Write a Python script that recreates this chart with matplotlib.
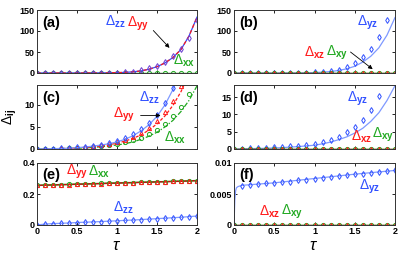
import matplotlib
matplotlib.use("Agg")
import matplotlib.pyplot as plt

plt.rcParams["font.family"] = ["Liberation Sans", "DejaVu Sans"]
plt.rcParams["mathtext.fontset"] = "custom"
plt.rcParams["mathtext.rm"] = "Liberation Sans"
plt.rcParams["mathtext.bf"] = "Liberation Sans:bold"
plt.rcParams["mathtext.it"] = "Liberation Sans:italic"

# ---- data ----
tau = [0.0, 0.1, 0.2, 0.3, 0.4, 0.5, 0.6, 0.7, 0.8, 0.9, 1.0,
       1.1, 1.2, 1.3, 1.4, 1.5, 1.6, 1.7, 1.8, 1.9, 2.0]

# (a)
a_zz_pts = [0, 0, 0, 0, 0, 0, 0, 0.1, 0.2, 0.5, 1.0, 2.0, 3.5, 6.5, 11, 17, 27, 40, 58, 84, 126]
a_zz_line = [0, 0, 0, 0, 0, 0, 0, 0.1, 0.2, 0.4, 0.8, 1.5, 2.8, 5, 9, 15, 24, 37, 56, 88, 133]
a_yy_line = [0, 0, 0, 0, 0, 0, 0, 0.1, 0.2, 0.4, 0.8, 1.5, 2.8, 5, 9, 15, 24, 37, 56, 88, 133]
a_xx_pts = [0] * 21

# (b)
b_yz_pts = [0, 0, 0, 0, 0, 0, 0, 0.1, 0.3, 0.6, 1.2, 2.5, 4.5, 8, 14, 25, 37, 57, 85, 126, 185]
b_yz_line = [0, 0, 0, 0, 0, 0, 0, 0.1, 0.2, 0.5, 1.0, 2.0, 3.5, 6, 10, 16, 26, 40, 60, 90, 132]
b_xz_pts = [0] * 21
b_xy_pts = [0] * 21

# (c)
c_zz_pts = [0, 0.05, 0.1, 0.15, 0.25, 0.35, 0.5, 0.7, 1.0, 1.4, 1.9, 2.6, 3.4, 4.5, 5.9, 7.8, 10.4, 13.8, 18, 24, 31]
c_zz_line = [0, 0.04, 0.08, 0.13, 0.2, 0.3, 0.45, 0.65, 0.9, 1.2, 1.6, 2.2, 3.0, 4.1, 5.5, 7.4, 10.0, 13.5, 18, 24, 31]
c_yy_pts = [0, 0.04, 0.08, 0.12, 0.2, 0.3, 0.4, 0.6, 0.8, 1.1, 1.5, 2.0, 2.7, 3.6, 4.8, 6.3, 8.3, 10.9, 14.2, 18.5, 24]
c_yy_line = [0, 0.03, 0.06, 0.1, 0.16, 0.25, 0.35, 0.5, 0.7, 1.0, 1.3, 1.8, 2.4, 3.2, 4.3, 5.7, 7.5, 9.9, 13.0, 17, 22]
c_xx_pts = [0, 0.03, 0.06, 0.1, 0.15, 0.2, 0.3, 0.45, 0.6, 0.8, 1.1, 1.5, 2.0, 2.6, 3.4, 4.4, 5.7, 7.4, 9.6, 12.4, 16]
c_xx_line = [0, 0.02, 0.05, 0.08, 0.12, 0.17, 0.25, 0.35, 0.5, 0.7, 0.9, 1.2, 1.6, 2.2, 2.9, 3.8, 5.0, 6.5, 8.5, 11.0, 14.3]

# (d)
d_yz_pts = [0, 0.1, 0.2, 0.3, 0.4, 0.5, 0.6, 0.75, 0.9, 1.15, 1.4, 1.9, 2.6, 3.5, 4.8, 6.4, 8.3, 11.2, 15.3, 21, 28]
d_yz_line = [0, 0.05, 0.1, 0.15, 0.2, 0.3, 0.4, 0.55, 0.7, 0.9, 1.1, 1.5, 2.0, 2.7, 3.5, 4.6, 6.0, 8.0, 10.5, 14.0, 18.3]
d_xz_pts = [0] * 21
d_xy_pts = [0] * 21

# (e)
e_yy_pts = [0.255, 0.257, 0.258, 0.260, 0.261, 0.263, 0.264, 0.266, 0.267, 0.269, 0.270,
            0.272, 0.273, 0.275, 0.276, 0.278, 0.279, 0.281, 0.282, 0.284, 0.286]
e_xx_pts = [0.256, 0.258, 0.259, 0.261, 0.262, 0.264, 0.265, 0.267, 0.268, 0.270, 0.271,
            0.273, 0.274, 0.276, 0.277, 0.279, 0.280, 0.282, 0.283, 0.285, 0.287]
e_zz_pts = [0.0, 0.006, 0.009, 0.011, 0.013, 0.016, 0.018, 0.020, 0.022, 0.025, 0.027,
            0.030, 0.032, 0.035, 0.038, 0.041, 0.044, 0.047, 0.050, 0.054, 0.058]

# (f)
f_yz_pts = [0.0, 0.0063, 0.0065, 0.0066, 0.0067, 0.0068, 0.0069, 0.0070, 0.0072, 0.0073, 0.0075,
            0.0076, 0.0078, 0.0079, 0.0080, 0.0082, 0.0083, 0.0084, 0.0086, 0.0087, 0.0088]
f_line_tau = [0.0, 0.01, 0.02, 0.03, 0.05, 0.1, 0.5, 1.0, 1.5, 2.0]
f_yz_line = [0.0, 0.0040, 0.0055, 0.0060, 0.0062, 0.0064, 0.0068, 0.0075, 0.0082, 0.0088]
f_xz_pts = [0] * 21
f_xy_pts = [0] * 21

BLUE = "#3050ff"
LBLUE = "#7f99ff"
RED = "#ff1a1a"
GREEN = "#20a820"

fig = plt.figure(figsize=(3.99, 2.57), dpi=100)
W, H = 399, 257


def make_ax(x0, x1, y0, y1):
    return fig.add_axes([x0 / W, 1 - y1 / H, (x1 - x0) / W, (y1 - y0) / H])


def style(ax, ylim, yticks, yticklabels, xlabels):
    ax.set_xlim(0, 2)
    ax.set_ylim(*ylim)
    ax.set_xticks([0, 0.5, 1, 1.5, 2])
    ax.set_yticks(yticks)
    ax.set_yticklabels(yticklabels, fontsize=6.5, fontweight="bold")
    if xlabels:
        ax.set_xticklabels(["0", "0.5", "1", "1.5", "2"], fontsize=6.5, fontweight="bold")
    else:
        ax.set_xticklabels([])
    ax.tick_params(direction="in", length=2.5, width=0.6, top=True, right=True, pad=1.5)
    for s in ax.spines.values():
        s.set_linewidth(0.7)
        s.set_color("#333333")


def pts(ax, y, marker, color, ms=3):
    ax.plot(tau, y, linestyle="none", marker=marker, ms=ms, mfc="none", mec=color, mew=0.7)


def lab(ax, x, y, sub, color):
    ax.text(x, y, r"$\Delta_{\mathbf{" + sub + "}}$", color=color, fontsize=10,
            ha="center", va="center")


def arrow(ax, xy, xytext):
    ax.annotate("", xy=xy, xytext=xytext,
                arrowprops=dict(arrowstyle="-|>", lw=0.6, color="k", mutation_scale=6))


def panel_tag(ax, t):
    ax.text(0.03, 0.8, t, transform=ax.transAxes, fontsize=10.5, fontweight="bold",
            ha="left", va="center")


# (a)
ax = make_ax(37, 197, 10, 73)
ax.plot(tau, a_xx_pts, color="#108010", lw=1.0)
pts(ax, a_xx_pts, "o", GREEN)
ax.plot(tau, a_zz_line, color=BLUE, lw=0.9)
ax.plot(tau, a_yy_line, color=RED, lw=0.9, ls=(0, (3, 2)))
pts(ax, a_zz_pts, "d", "#6a3cd0")
style(ax, (0, 150), [0, 50, 100, 150], ["0", "50", "100", "150"], False)
lab(ax, 0.98, 121, "zz", BLUE)
lab(ax, 1.26, 117, "yy", RED)
lab(ax, 1.84, 29, "xx", GREEN)
arrow(ax, (1.68, 55), (1.43, 106))
panel_tag(ax, "(a)")

# (b)
ax = make_ax(234, 395, 10, 73)
ax.plot(tau, b_yz_line, color=LBLUE, lw=0.9)
pts(ax, b_yz_pts, "d", BLUE)
ax.plot(tau, b_xy_pts, color=GREEN, lw=1.0)
ax.plot(tau, b_xz_pts, color="#b01010", lw=1.0)
pts(ax, b_xy_pts, "o", GREEN)
pts(ax, b_xz_pts, "^", RED)
style(ax, (0, 150), [0, 50, 100, 150], ["0", "50", "100", "150"], False)
lab(ax, 1.66, 119, "yz", BLUE)
lab(ax, 1.0, 49, "xz", RED)
lab(ax, 1.28, 49, "xy", GREEN)
arrow(ax, (1.75, 5), (1.42, 54))
panel_tag(ax, "(b)")

# (c)
ax = make_ax(37, 197, 85, 149)
ax.plot(tau, c_xx_line, color=GREEN, lw=0.9, ls=(0, (4, 1.5, 1, 1.5)))
pts(ax, c_xx_pts, "o", GREEN)
ax.plot(tau, c_yy_line, color=RED, lw=0.9, ls=(0, (2.5, 1.5)))
pts(ax, c_yy_pts, "^", RED)
ax.plot(tau, c_zz_line, color=LBLUE, lw=0.9)
pts(ax, c_zz_pts, "d", BLUE)
style(ax, (0, 14.5), [0, 5, 10], ["0", "5", "10"], False)
lab(ax, 1.4, 11.6, "zz", BLUE)
lab(ax, 1.09, 7.7, "yy", RED)
lab(ax, 1.72, 2.6, "xx", GREEN)
arrow(ax, (1.58, 7.6), (1.26, 7.6))
panel_tag(ax, "(c)")

# (d)
ax = make_ax(234, 395, 85, 149)
ax.plot(tau, d_yz_line, color=LBLUE, lw=0.9)
pts(ax, d_yz_pts, "d", BLUE)
ax.plot(tau, d_xy_pts, color=GREEN, lw=1.0)
ax.plot(tau, d_xz_pts, color="#b01010", lw=1.0)
pts(ax, d_xy_pts, "o", GREEN)
pts(ax, d_xz_pts, "^", RED)
style(ax, (0, 18.5), [0, 5, 10, 15], ["0", "5", "10", "15"], False)
lab(ax, 1.53, 14.5, "yz", BLUE)
lab(ax, 1.59, 3.5, "xz", RED)
lab(ax, 1.85, 4.1, "xy", GREEN)
panel_tag(ax, "(d)")

# (e)
ax = make_ax(37, 197, 163, 225)
ax.plot(tau, e_xx_pts, color=GREEN, lw=1.0)
ax.plot(tau, e_yy_pts, color="#c01010", lw=1.0)
pts(ax, e_xx_pts, "o", GREEN)
pts(ax, e_yy_pts, "^", RED)
ax.plot(tau, e_zz_pts, color=LBLUE, lw=0.9)
pts(ax, e_zz_pts, "d", BLUE)
style(ax, (0, 0.4), [0, 0.2, 0.4], ["0", "0.2", "0.4"], True)
lab(ax, 0.5, 0.34, "yy", RED)
lab(ax, 0.78, 0.34, "xx", GREEN)
lab(ax, 1.08, 0.11, "zz", BLUE)
panel_tag(ax, "(e)")

# (f)
ax = make_ax(234, 395, 163, 225)
ax.plot(f_line_tau, f_yz_line, color=LBLUE, lw=0.9)
pts(ax, f_yz_pts, "d", BLUE)
ax.plot(tau, f_xy_pts, color=GREEN, lw=1.0)
ax.plot(tau, f_xz_pts, color="#b01010", lw=1.0)
pts(ax, f_xy_pts, "o", GREEN)
pts(ax, f_xz_pts, "^", RED)
style(ax, (0, 0.01), [0, 0.005, 0.01], ["0", "0.005", "0.01"], True)
lab(ax, 1.69, 0.0061, "yz", BLUE)
lab(ax, 0.44, 0.0021, "xz", RED)
lab(ax, 0.72, 0.0021, "xy", GREEN)
panel_tag(ax, "(f)")

# x labels placed under the bottom row, as in the reference
fig.text(117 / W, 1 - 245 / H, r"$\tau$", fontsize=12, ha="center", va="center")
fig.text(314 / W, 1 - 245 / H, r"$\tau$", fontsize=12, ha="center", va="center")

fig.text(10 / W, 1 - 117 / H, r"$\Delta_{\mathbf{ij}}$", rotation=90, fontsize=10,
         ha="center", va="center")

fig.savefig("out.png", dpi=100)
